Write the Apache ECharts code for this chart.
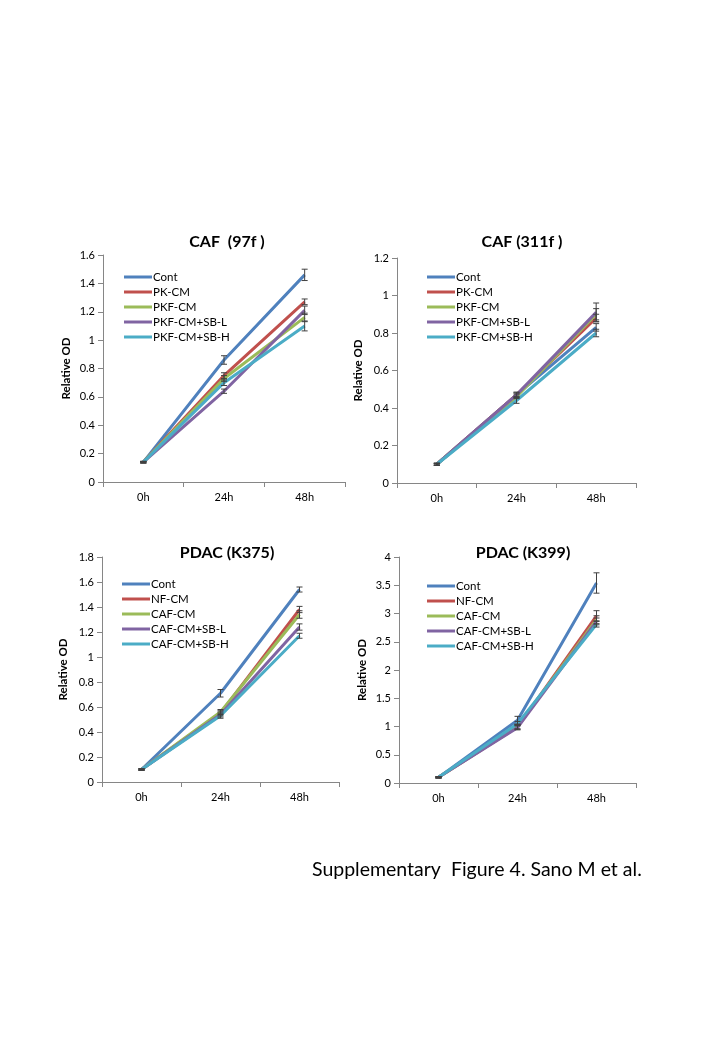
<!DOCTYPE html>
<html>
<head>
<meta charset="utf-8">
<script src="https://cdn.jsdelivr.net/npm/echarts@6/dist/echarts.min.js"></script>
<style>
  html, body { margin: 0; padding: 0; background: #fff; }
  #chart { width: 720px; height: 1040px; }
</style>
</head>
<body>
<div id="chart"></div>
<script>
const hours = ["0h", "24h", "48h"];

const cafGroups = ["Cont", "PK-CM", "PKF-CM", "PKF-CM+SB-L", "PKF-CM+SB-H"];
const pdacGroups = ["Cont", "NF-CM", "CAF-CM", "CAF-CM+SB-L", "CAF-CM+SB-H"];

// CAF (97f)
const caf97Mean = [[0.14, 0.86, 1.46], [0.14, 0.75, 1.27], [0.14, 0.73, 1.16], [0.14, 0.64, 1.21], [0.14, 0.70, 1.10]];
const caf97Err = [[0.005, 0.03, 0.04], [0.005, 0.02, 0.02], [0.005, 0.02, 0.03], [0.005, 0.015, 0.03], [0.005, 0.02, 0.035]];

// CAF (311f)
const caf311Mean = [[0.10, 0.47, 0.83], [0.10, 0.47, 0.88], [0.10, 0.46, 0.90], [0.10, 0.47, 0.91], [0.10, 0.44, 0.80]];
const caf311Err = [[0.005, 0.015, 0.02], [0.005, 0.01, 0.02], [0.005, 0.01, 0.03], [0.005, 0.01, 0.05], [0.005, 0.015, 0.02]];

// PDAC (K375)
const k375Mean = [[0.10, 0.71, 1.54], [0.10, 0.55, 1.38], [0.10, 0.56, 1.34], [0.10, 0.54, 1.24], [0.10, 0.53, 1.17]];
const k375Err = [[0.005, 0.03, 0.02], [0.005, 0.02, 0.025], [0.005, 0.02, 0.03], [0.005, 0.02, 0.025], [0.005, 0.02, 0.02]];

// PDAC (K399)
const k399Mean = [[0.10, 1.11, 3.54], [0.10, 0.99, 2.96], [0.10, 1.00, 2.89], [0.10, 0.98, 2.86], [0.10, 1.05, 2.81]];
const k399Err = [[0.01, 0.07, 0.18], [0.01, 0.04, 0.09], [0.01, 0.04, 0.07], [0.01, 0.04, 0.06], [0.01, 0.04, 0.05]];

const colors = ["#4F81BD", "#C0504D", "#9BBB59", "#8064A2", "#4BACC6"];
const font = "Lato";

const panels = [
    { title: "CAF  (97f )", groups: cafGroups, mean: caf97Mean, err: caf97Err, max: 1.6, step: 0.2,
      grid: { left: 103, right: 375, top: 255, bottom: 558 }, titleX: 222, titleY: 229,
      legend: { left: 124, top: 271 }, nameGap: 31 },
    { title: "CAF (311f )", groups: cafGroups, mean: caf311Mean, err: caf311Err, max: 1.2, step: 0.2,
      grid: { left: 397, right: 84, top: 258, bottom: 557 }, titleX: 517, titleY: 229,
      legend: { left: 427, top: 271 }, nameGap: 33 },
    { title: "PDAC (K375)", groups: pdacGroups, mean: k375Mean, err: k375Err, max: 1.8, step: 0.2,
      grid: { left: 102, right: 381, top: 557, bottom: 258 }, titleX: 222, titleY: 540,
      legend: { left: 122, top: 578 }, nameGap: 33 },
    { title: "PDAC (K399)", groups: pdacGroups, mean: k399Mean, err: k399Err, max: 4, step: 0.5,
      grid: { left: 399, right: 84, top: 557, bottom: 257 }, titleX: 518, titleY: 540,
      legend: { left: 427, top: 580 }, nameGap: 31 },
];

const chart = echarts.init(document.getElementById("chart"));

const titles = panels.map(p => ({
    text: p.title,
    left: p.titleX,
    top: p.titleY,
    textAlign: "center",
    textStyle: { fontFamily: font, fontSize: 16, fontWeight: "bold", color: "#000" },
}));
titles.push({
    text: "Supplementary  Figure 4. Sano M et al.",
    left: 312,
    top: 860,
    padding: 0,
    textStyle: { fontFamily: font, fontSize: 19.5, fontWeight: "normal", color: "#000" },
});

const series = [];
panels.forEach((p, pi) => {
    p.groups.forEach((g, gi) => {
        series.push({
            name: g,
            type: "line",
            xAxisIndex: pi,
            yAxisIndex: pi,
            data: p.mean[gi],
            symbol: "none",
            color: colors[gi],
            lineStyle: { color: colors[gi], width: 3 },
            emphasis: { disabled: true },
            silent: true,
        });
    });
    const bars = [];
    p.mean.forEach((vals, gi) => {
        vals.forEach((v, xi) => {
            bars.push([xi, v - p.err[gi][xi], v + p.err[gi][xi]]);
        });
    });
    series.push({
        type: "custom",
        xAxisIndex: pi,
        yAxisIndex: pi,
        data: bars,
        z: 5,
        silent: true,
        encode: { x: 0, y: [1, 2] },
        renderItem: (params, api) => {
            const lo = api.coord([api.value(0), api.value(1)]);
            const hi = api.coord([api.value(0), api.value(2)]);
            const cap = 3;
            const style = { stroke: "#404040", lineWidth: 1 };
            return {
                type: "group",
                children: [
                    { type: "line", shape: { x1: lo[0], y1: lo[1], x2: hi[0], y2: hi[1] }, style },
                    { type: "line", shape: { x1: lo[0] - cap, y1: lo[1], x2: lo[0] + cap, y2: lo[1] }, style },
                    { type: "line", shape: { x1: hi[0] - cap, y1: hi[1], x2: hi[0] + cap, y2: hi[1] }, style },
                ],
            };
        },
    });
});

const option = {
    backgroundColor: "#fff",
    animation: false,
    title: titles,
    legend: panels.map(p => ({
        data: p.groups,
        orient: "vertical",
        left: p.legend.left,
        top: p.legend.top,
        icon: "rect",
        itemWidth: 28,
        itemHeight: 3,
        itemGap: 3,
        padding: 0,
        selectedMode: false,
        textStyle: { fontFamily: font, fontSize: 11.5, color: "#000", padding: [0, 0, 0, -4] },
    })),
    grid: panels.map(p => Object.assign({ containLabel: false }, p.grid)),
    xAxis: panels.map((p, pi) => ({
        type: "category",
        gridIndex: pi,
        data: hours,
        boundaryGap: true,
        axisLine: { lineStyle: { color: "#868686", width: 1 } },
        axisTick: { show: true, inside: false, length: 5, lineStyle: { color: "#868686" } },
        axisLabel: { fontFamily: font, fontSize: 11, color: "#000", margin: 10 },
        splitLine: { show: false },
    })),
    yAxis: panels.map((p, pi) => ({
        type: "value",
        gridIndex: pi,
        min: 0,
        max: p.max,
        interval: p.step,
        name: "Relative OD",
        nameLocation: "middle",
        nameGap: p.nameGap,
        nameTextStyle: { fontFamily: font, fontSize: 11.5, fontWeight: "bold", color: "#000" },
        axisLine: { show: true, lineStyle: { color: "#868686", width: 1 } },
        axisTick: { show: true, inside: false, length: 5, lineStyle: { color: "#868686" } },
        axisLabel: { fontFamily: font, fontSize: 11, color: "#000", margin: 8 },
        splitLine: { show: false },
    })),
    series: series,
};

chart.setOption(option);
</script>
</body>
</html>
